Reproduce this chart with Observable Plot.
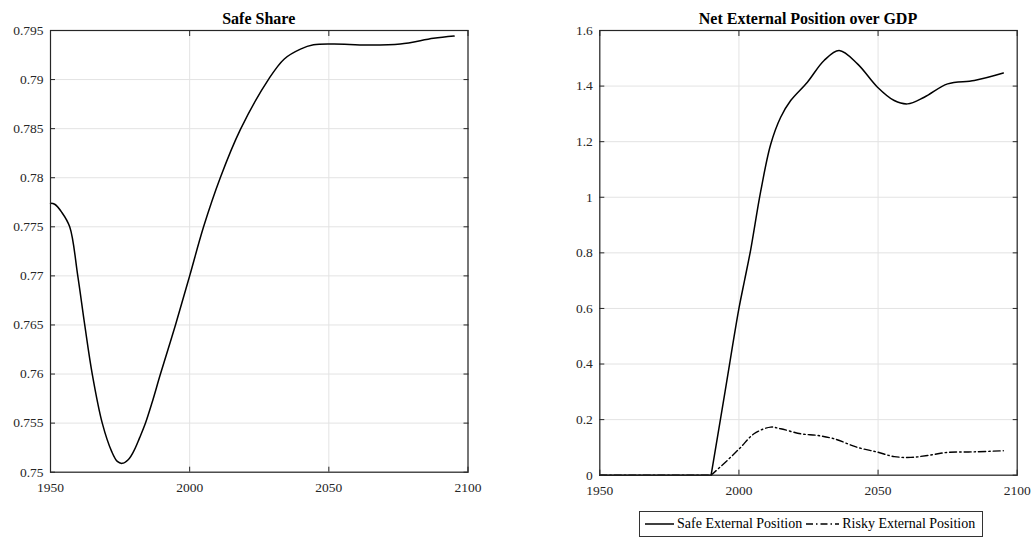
<!DOCTYPE html>
<html>
<head>
<meta charset="utf-8">
<script src="https://cdn.jsdelivr.net/npm/d3@7"></script>
<script src="https://cdn.jsdelivr.net/npm/@observablehq/plot@0.6"></script>
<style>
  html, body { margin: 0; padding: 0; background: #fff; }
  #wrap { position: relative; width: 1035px; height: 538px; overflow: hidden; background: #fff; font-family: "Liberation Serif", "Times New Roman", serif; }
  .panel { position: absolute; top: 0; }
  .panel svg text { font-family: "Liberation Serif", "Times New Roman", serif; }
  .ttl { position: absolute; font-weight: bold; font-size: 16px; color: #000; text-align: center; white-space: nowrap; line-height: 16px; }
  #legend { position: absolute; left: 639px; top: 511px; width: 342px; height: 24px; border: 1px solid #333; background: #fff;
            display: flex; align-items: center; font-size: 14px; color: #000; white-space: nowrap; box-sizing: content-box; }
  #legend svg { display: block; }
</style>
</head>
<body>
<div id="wrap">
  <div class="panel" id="left"></div>
  <div class="panel" id="right"></div>
  <div class="ttl" id="t1"></div>
  <div class="ttl" id="t2"></div>
  <div id="legend"></div>
</div>
<script>
// ---------- data ----------
const titles = ["Safe Share", "Net External Position over GDP"];
const legendLabels = ["Safe External Position", "Risky External Position"];

const xTicks = [1950, 2000, 2050, 2100];
const leftYTicks = [0.75, 0.755, 0.76, 0.765, 0.77, 0.775, 0.78, 0.785, 0.79, 0.795];
const rightYTicks = [0, 0.2, 0.4, 0.6, 0.8, 1, 1.2, 1.4, 1.6];

const safeShareYears = [1950, 1951.5, 1954, 1956.9, 1959.8, 1962.3, 1965, 1968.6, 1972, 1974, 1975.7, 1978, 1980, 1982, 1984, 1986.5, 1989.5, 1994.9, 2000, 2005, 2011, 2018.2, 2028.5, 2034, 2039.8, 2044.5, 2051.7, 2063.7, 2075.7, 2087.6, 2095];
const safeShareValues = [0.7774, 0.7773, 0.7765, 0.7750, 0.7700, 0.7650, 0.7600, 0.7550, 0.7521, 0.7511, 0.7509, 0.7513, 0.7522, 0.7535, 0.7549, 0.7571, 0.7600, 0.7650, 0.7700, 0.7750, 0.7800, 0.7849, 0.7901, 0.7921, 0.7931, 0.79354, 0.79362, 0.79352, 0.79362, 0.7942, 0.79443];

const safeExtYears = [1950, 1970, 1990, 1995, 2000, 2002, 2004.2, 2007.8, 2011.4, 2015, 2018.6, 2024.6, 2030.6, 2036, 2042.6, 2049.8, 2055.8, 2060.6, 2066.6, 2075, 2084.6, 2095];
const safeExtValues = [0, 0, 0, 0.30, 0.60, 0.70, 0.81, 1.02, 1.19, 1.288, 1.348, 1.414, 1.492, 1.528, 1.480, 1.396, 1.348, 1.336, 1.360, 1.408, 1.420, 1.447];

const riskyExtYears = [1950, 1970, 1990, 1995.8, 2000.6, 2005.4, 2011.4, 2015, 2022.2, 2028.2, 2034.2, 2042.6, 2049.8, 2055.8, 2061.8, 2067.8, 2075, 2084.6, 2095];
const riskyExtValues = [0, 0, 0, 0.053, 0.100, 0.149, 0.173, 0.167, 0.149, 0.143, 0.131, 0.100, 0.083, 0.067, 0.064, 0.071, 0.082, 0.084, 0.088];

const kinkYear = 1990; // where the external positions start moving

// ---------- helpers ----------
const AX = "#262626";
const GRID = "#e3e3e3";
const FONT = "Liberation Serif, Times New Roman, serif";
const FS = 13.5;
const fmt = d => String(+(+d).toFixed(4));
const DASHDOT = "7,3,1.5,3";

function gridMarks(yTicks) {
  return [
    Plot.gridX(xTicks, {stroke: GRID, strokeOpacity: 1, strokeWidth: 1}),
    Plot.gridY(yTicks, {stroke: GRID, strokeOpacity: 1, strokeWidth: 1}),
  ];
}
function frameMarks(yTicks) {
  return [
    Plot.frame({stroke: AX, strokeWidth: 1.2}),
    Plot.axisX(xTicks, {anchor: "bottom", tickSize: -5, tickPadding: 15, tickFormat: d => String(d), stroke: AX, fill: AX, label: null, fontFamily: FONT, fontSize: FS}),
    Plot.axisX(xTicks, {anchor: "top", tickSize: -5, text: null, stroke: AX, label: null}),
    Plot.axisY(yTicks, {anchor: "left", tickSize: -5, tickPadding: 12, tickFormat: fmt, stroke: AX, fill: AX, label: null, fontFamily: FONT, fontSize: FS}),
    Plot.axisY(yTicks, {anchor: "right", tickSize: -5, text: null, stroke: AX, label: null}),
  ];
}

const safeShare = safeShareYears.map((x, i) => ({x, y: safeShareValues[i]}));
const safeExt = safeExtYears.map((x, i) => ({x, y: safeExtValues[i]}));
const riskyExt = riskyExtYears.map((x, i) => ({x, y: riskyExtValues[i]}));

// ---------- left panel ----------
const L = {left: 50, right: 467.5, top: 30, bottom: 471.7, width: 490, height: 500};
const leftPlot = Plot.plot({
  width: L.width, height: L.height,
  marginLeft: L.left, marginRight: L.width - L.right, marginTop: L.top, marginBottom: L.height - L.bottom,
  x: {domain: [1950, 2100]},
  y: {domain: [0.75, 0.795]},
  style: {fontFamily: FONT, fontSize: FS + "px", color: AX, background: "transparent", overflow: "visible"},
  marks: [
    ...gridMarks(leftYTicks),
    Plot.line(safeShare, {x: "x", y: "y", curve: "catmull-rom", stroke: "#000", strokeWidth: 1.5}),
    ...frameMarks(leftYTicks)
  ]
});
document.getElementById("left").appendChild(leftPlot);
document.getElementById("left").style.left = "0px";

// ---------- right panel ----------
const R0 = 540;
const R = {left: 599.3 - R0, right: 1016.7 - R0, top: 30, bottom: 474.7, width: 495, height: 500};
const before = d => d.x <= kinkYear;
const after = d => d.x >= kinkYear;
const rightPlot = Plot.plot({
  width: R.width, height: R.height,
  marginLeft: R.left, marginRight: R.width - R.right, marginTop: R.top, marginBottom: R.height - R.bottom,
  x: {domain: [1950, 2100]},
  y: {domain: [0, 1.6]},
  style: {fontFamily: FONT, fontSize: FS + "px", color: AX, background: "transparent", overflow: "visible"},
  marks: [
    ...gridMarks(rightYTicks),
    Plot.line(riskyExt, {filter: before, x: "x", y: "y", curve: "linear", stroke: "#000", strokeWidth: 1.4, strokeDasharray: DASHDOT}),
    Plot.line(riskyExt, {filter: after, x: "x", y: "y", curve: "catmull-rom", stroke: "#000", strokeWidth: 1.4, strokeDasharray: DASHDOT}),
    Plot.line(safeExt, {filter: before, x: "x", y: "y", curve: "linear", stroke: "#000", strokeWidth: 1.5}),
    Plot.line(safeExt, {filter: after, x: "x", y: "y", curve: "catmull-rom", stroke: "#000", strokeWidth: 1.5}),
    ...frameMarks(rightYTicks)
  ]
});
document.getElementById("right").appendChild(rightPlot);
document.getElementById("right").style.left = R0 + "px";

// ---------- titles ----------
const t1 = document.getElementById("t1");
t1.textContent = titles[0];
t1.style.left = L.left + "px"; t1.style.width = (L.right - L.left) + "px"; t1.style.top = "11px";
const t2 = document.getElementById("t2");
t2.textContent = titles[1];
t2.style.left = (R0 + R.left) + "px"; t2.style.width = (R.right - R.left) + "px"; t2.style.top = "11px";

// ---------- legend ----------
const lg = document.getElementById("legend");
function sample(w, dash) {
  const ns = "http://www.w3.org/2000/svg";
  const s = document.createElementNS(ns, "svg");
  s.setAttribute("width", w); s.setAttribute("height", 10);
  const l = document.createElementNS(ns, "line");
  l.setAttribute("x1", 0); l.setAttribute("x2", w); l.setAttribute("y1", 5); l.setAttribute("y2", 5);
  l.setAttribute("stroke", "#000"); l.setAttribute("stroke-width", 1.5);
  if (dash) l.setAttribute("stroke-dasharray", dash);
  s.appendChild(l);
  return s;
}
function span(txt, ml) {
  const e = document.createElement("span");
  e.textContent = txt; e.style.marginLeft = ml + "px";
  return e;
}
const s1 = sample(29, null); s1.style.marginLeft = "5px";
lg.appendChild(s1);
lg.appendChild(span(legendLabels[0], 3));
const s2 = sample(33, DASHDOT); s2.style.marginLeft = "4px";
lg.appendChild(s2);
lg.appendChild(span(legendLabels[1], 3));
</script>
</body>
</html>
